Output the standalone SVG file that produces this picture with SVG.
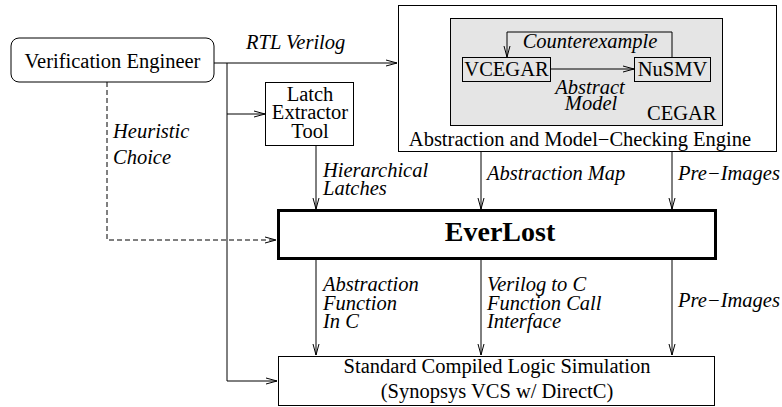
<svg xmlns="http://www.w3.org/2000/svg" width="782" height="407" viewBox="0 0 782 407">
<defs>
<marker id="ah" markerWidth="12" markerHeight="8" refX="11" refY="4" orient="auto" markerUnits="userSpaceOnUse">
<polyline points="0,1 11,4 0,7" fill="none" stroke="#000" stroke-width="1"/>
</marker>
<style>
.t{font-family:"Liberation Serif","Times New Roman",serif;font-size:20.5px;fill:#000}
.i{font-family:"Liberation Serif","Times New Roman",serif;font-size:20.5px;font-style:italic;fill:#000}
.b{fill:#fff;stroke:#000;stroke-width:1}
.g{fill:#e5e5e5;stroke:#000;stroke-width:1}
.c{fill:none;stroke:#000;stroke-width:1}
</style>
</defs>
<rect width="782" height="407" fill="#fff"/>
<g id="connectors">
<line class="c" x1="214" y1="63" x2="397" y2="63" marker-end="url(#ah)"/>
<polyline class="c" points="227,63 227,381 277,381" marker-end="url(#ah)"/>
<line class="c" x1="227" y1="114" x2="265" y2="114" marker-end="url(#ah)"/>
<polyline class="c" points="107,82 107,240 276,240" stroke-dasharray="5,3" marker-end="url(#ah)"/>
<line class="c" x1="316" y1="146" x2="316" y2="209" marker-end="url(#ah)"/>
<line class="c" x1="481" y1="152" x2="481" y2="209" marker-end="url(#ah)"/>
<line class="c" x1="672" y1="152" x2="672" y2="209" marker-end="url(#ah)"/>
<line class="c" x1="316" y1="260" x2="316" y2="355" marker-end="url(#ah)"/>
<line class="c" x1="481" y1="260" x2="481" y2="355" marker-end="url(#ah)"/>
<line class="c" x1="672" y1="260" x2="672" y2="355" marker-end="url(#ah)"/>
<text class="i" x="246" y="49">RTL Verilog</text>
<text class="i" x="113" y="138">Heuristic</text>
<text class="i" x="113" y="164">Choice</text>
<text class="i" x="323" y="177">Hierarchical</text>
<text class="i" x="323" y="195">Latches</text>
<text class="i" x="487" y="180">Abstraction Map</text>
<text class="i" x="678" y="180">Pre−Images</text>
<text class="i" x="323" y="291">Abstraction</text>
<text class="i" x="323" y="310">Function</text>
<text class="i" x="323" y="328">In C</text>
<text class="i" x="487" y="291">Verilog to C</text>
<text class="i" x="487" y="310">Function Call</text>
<text class="i" x="487" y="328">Interface</text>
<text class="i" x="678" y="307">Pre−Images</text>
</g>
<g id="engineer">
<rect class="b" x="11" y="38" width="203" height="44" rx="8"/>
<text class="t" x="112.5" y="68" text-anchor="middle">Verification Engineer</text>
</g>
<g id="latch">
<rect class="b" x="265.5" y="82.5" width="88" height="63"/>
<text class="t" x="310" y="101" text-anchor="middle">Latch</text>
<text class="t" x="310" y="119" text-anchor="middle">Extractor</text>
<text class="t" x="310" y="138" text-anchor="middle">Tool</text>
</g>
<g id="engine">
<rect class="b" x="398.5" y="5.5" width="378" height="146"/>
<text class="t" x="580" y="146" text-anchor="middle">Abstraction and Model−Checking Engine</text>
<g id="cegar">
<rect class="g" x="450.5" y="18.5" width="272" height="107"/>
<text class="t" x="647" y="120">CEGAR</text>
</g>
<g id="vcegar">
<rect class="g" x="462.5" y="57.5" width="88" height="24"/>
<text class="t" x="506.5" y="76" text-anchor="middle">VCEGAR</text>
</g>
<g id="nusmv">
<rect class="g" x="634.5" y="57.5" width="76" height="24"/>
<text class="t" x="672.5" y="76" text-anchor="middle">NuSMV</text>
</g>
<line class="c" x1="551" y1="69" x2="634" y2="69" marker-end="url(#ah)"/>
<polyline class="c" points="672,57 672,32 507,32 507,57" marker-end="url(#ah)"/>
<text class="i" x="590" y="48" text-anchor="middle">Counterexample</text>
<text class="i" x="590" y="94" text-anchor="middle">Abstract</text>
<text class="i" x="591" y="110" text-anchor="middle">Model</text>
</g>
<g id="everlost">
<rect x="278.5" y="210.5" width="437" height="48" fill="#fff" stroke="#000" stroke-width="3"/>
<text x="500" y="241" text-anchor="middle" font-family="'Liberation Serif','Times New Roman',serif" font-size="28" font-weight="bold">EverLost</text>
</g>
<g id="simulation">
<rect class="b" x="278.5" y="356.5" width="436" height="49"/>
<text class="t" x="497" y="373" text-anchor="middle">Standard Compiled Logic Simulation</text>
<text class="t" x="497" y="398" text-anchor="middle">(Synopsys VCS w/ DirectC)</text>
</g>
</svg>
